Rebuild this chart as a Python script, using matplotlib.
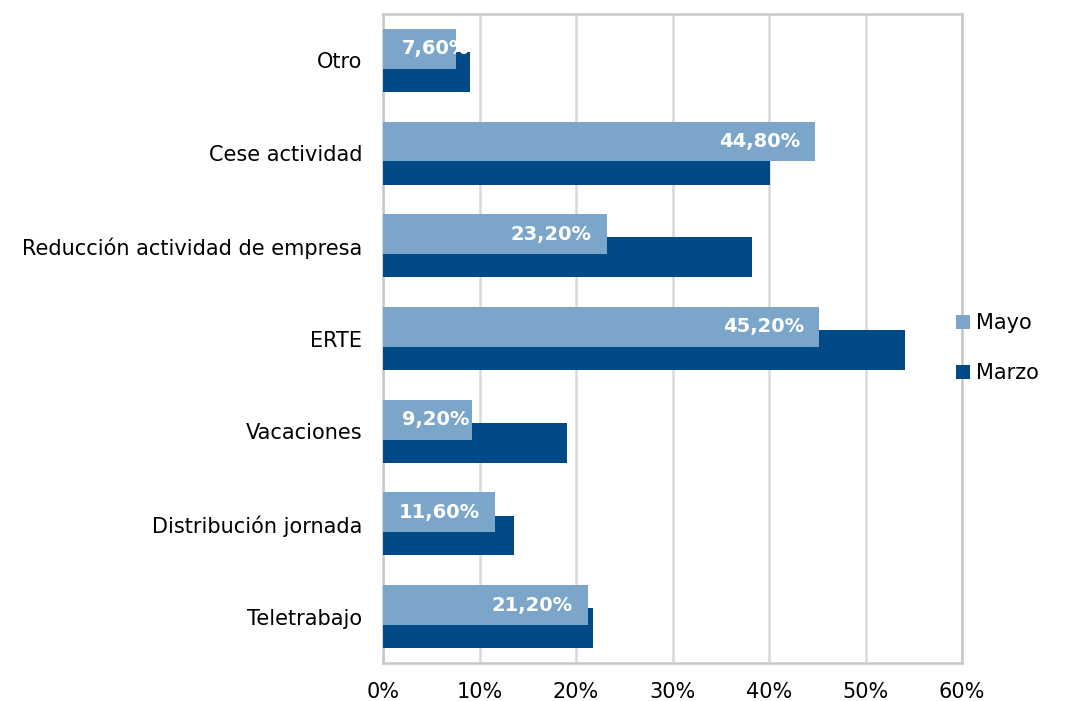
import numpy as np
import matplotlib.pyplot as plt
from matplotlib.ticker import FuncFormatter

categorias = ['Teletrabajo', 'Distribución jornada', 'Vacaciones', 'ERTE',
              'Reducción actividad de empresa', 'Cese actividad', 'Otro']
mayo = [21.2, 11.6, 9.2, 45.2, 23.2, 44.8, 7.6]
marzo = [21.8, 13.6, 19.1, 54.1, 38.2, 40.1, 9.0]
etiquetas = ['21,20%', '11,60%', '9,20%', '45,20%', '23,20%', '44,80%', '7,60%']

c_mayo = '#7ba6ca'
c_marzo = '#004b87'

plt.rcParams['font.family'] = ['DejaVu Sans']

fig = plt.figure(figsize=(10.89, 7.01), dpi=100)
ax = fig.add_axes([0.3517, 0.0542, 0.5317, 0.9258])

y = np.arange(len(categorias))
h = 0.43
b_marzo = ax.barh(y - 0.125, marzo, height=h, color=c_marzo, label='Marzo', zorder=2)
b_mayo = ax.barh(y + 0.125, mayo, height=h, color=c_mayo, label='Mayo', zorder=3)

# etiquetas de datos en la barra de mayo
for yi, v, t in zip(y, mayo, etiquetas):
    ax.text(max(v - 1.6, 8.9), yi + 0.125, t, ha='right', va='center',
            color='white', fontsize=14, fontweight='bold', zorder=4)

ax.set_xlim(0, 60)
ax.set_ylim(-0.5, 6.5)
ax.set_xticks(range(0, 61, 10))
ax.xaxis.set_major_formatter(FuncFormatter(lambda v, p: '%d%%' % v))
ax.set_yticks(y)
ax.set_yticklabels(categorias)
ax.tick_params(axis='both', length=0, labelsize=15, colors='black')
ax.tick_params(axis='x', pad=14)
ax.tick_params(axis='y', pad=15)
ax.grid(axis='x', color='#d9d9d9', linewidth=1.8, zorder=0)
ax.set_axisbelow(True)
for s in ax.spines.values():
    s.set_color('#c8c8c8')
    s.set_linewidth(1.8)
    s.set_zorder(1)

leg = ax.legend([b_mayo, b_marzo], ['Mayo', 'Marzo'], loc='center left',
                bbox_to_anchor=(0.965, 0.485), frameon=False,
                fontsize=15, handlelength=0.65, handleheight=0.65,
                handletextpad=0.3, labelspacing=1.45, borderaxespad=0.3)

fig.savefig('out.png', dpi=100)
